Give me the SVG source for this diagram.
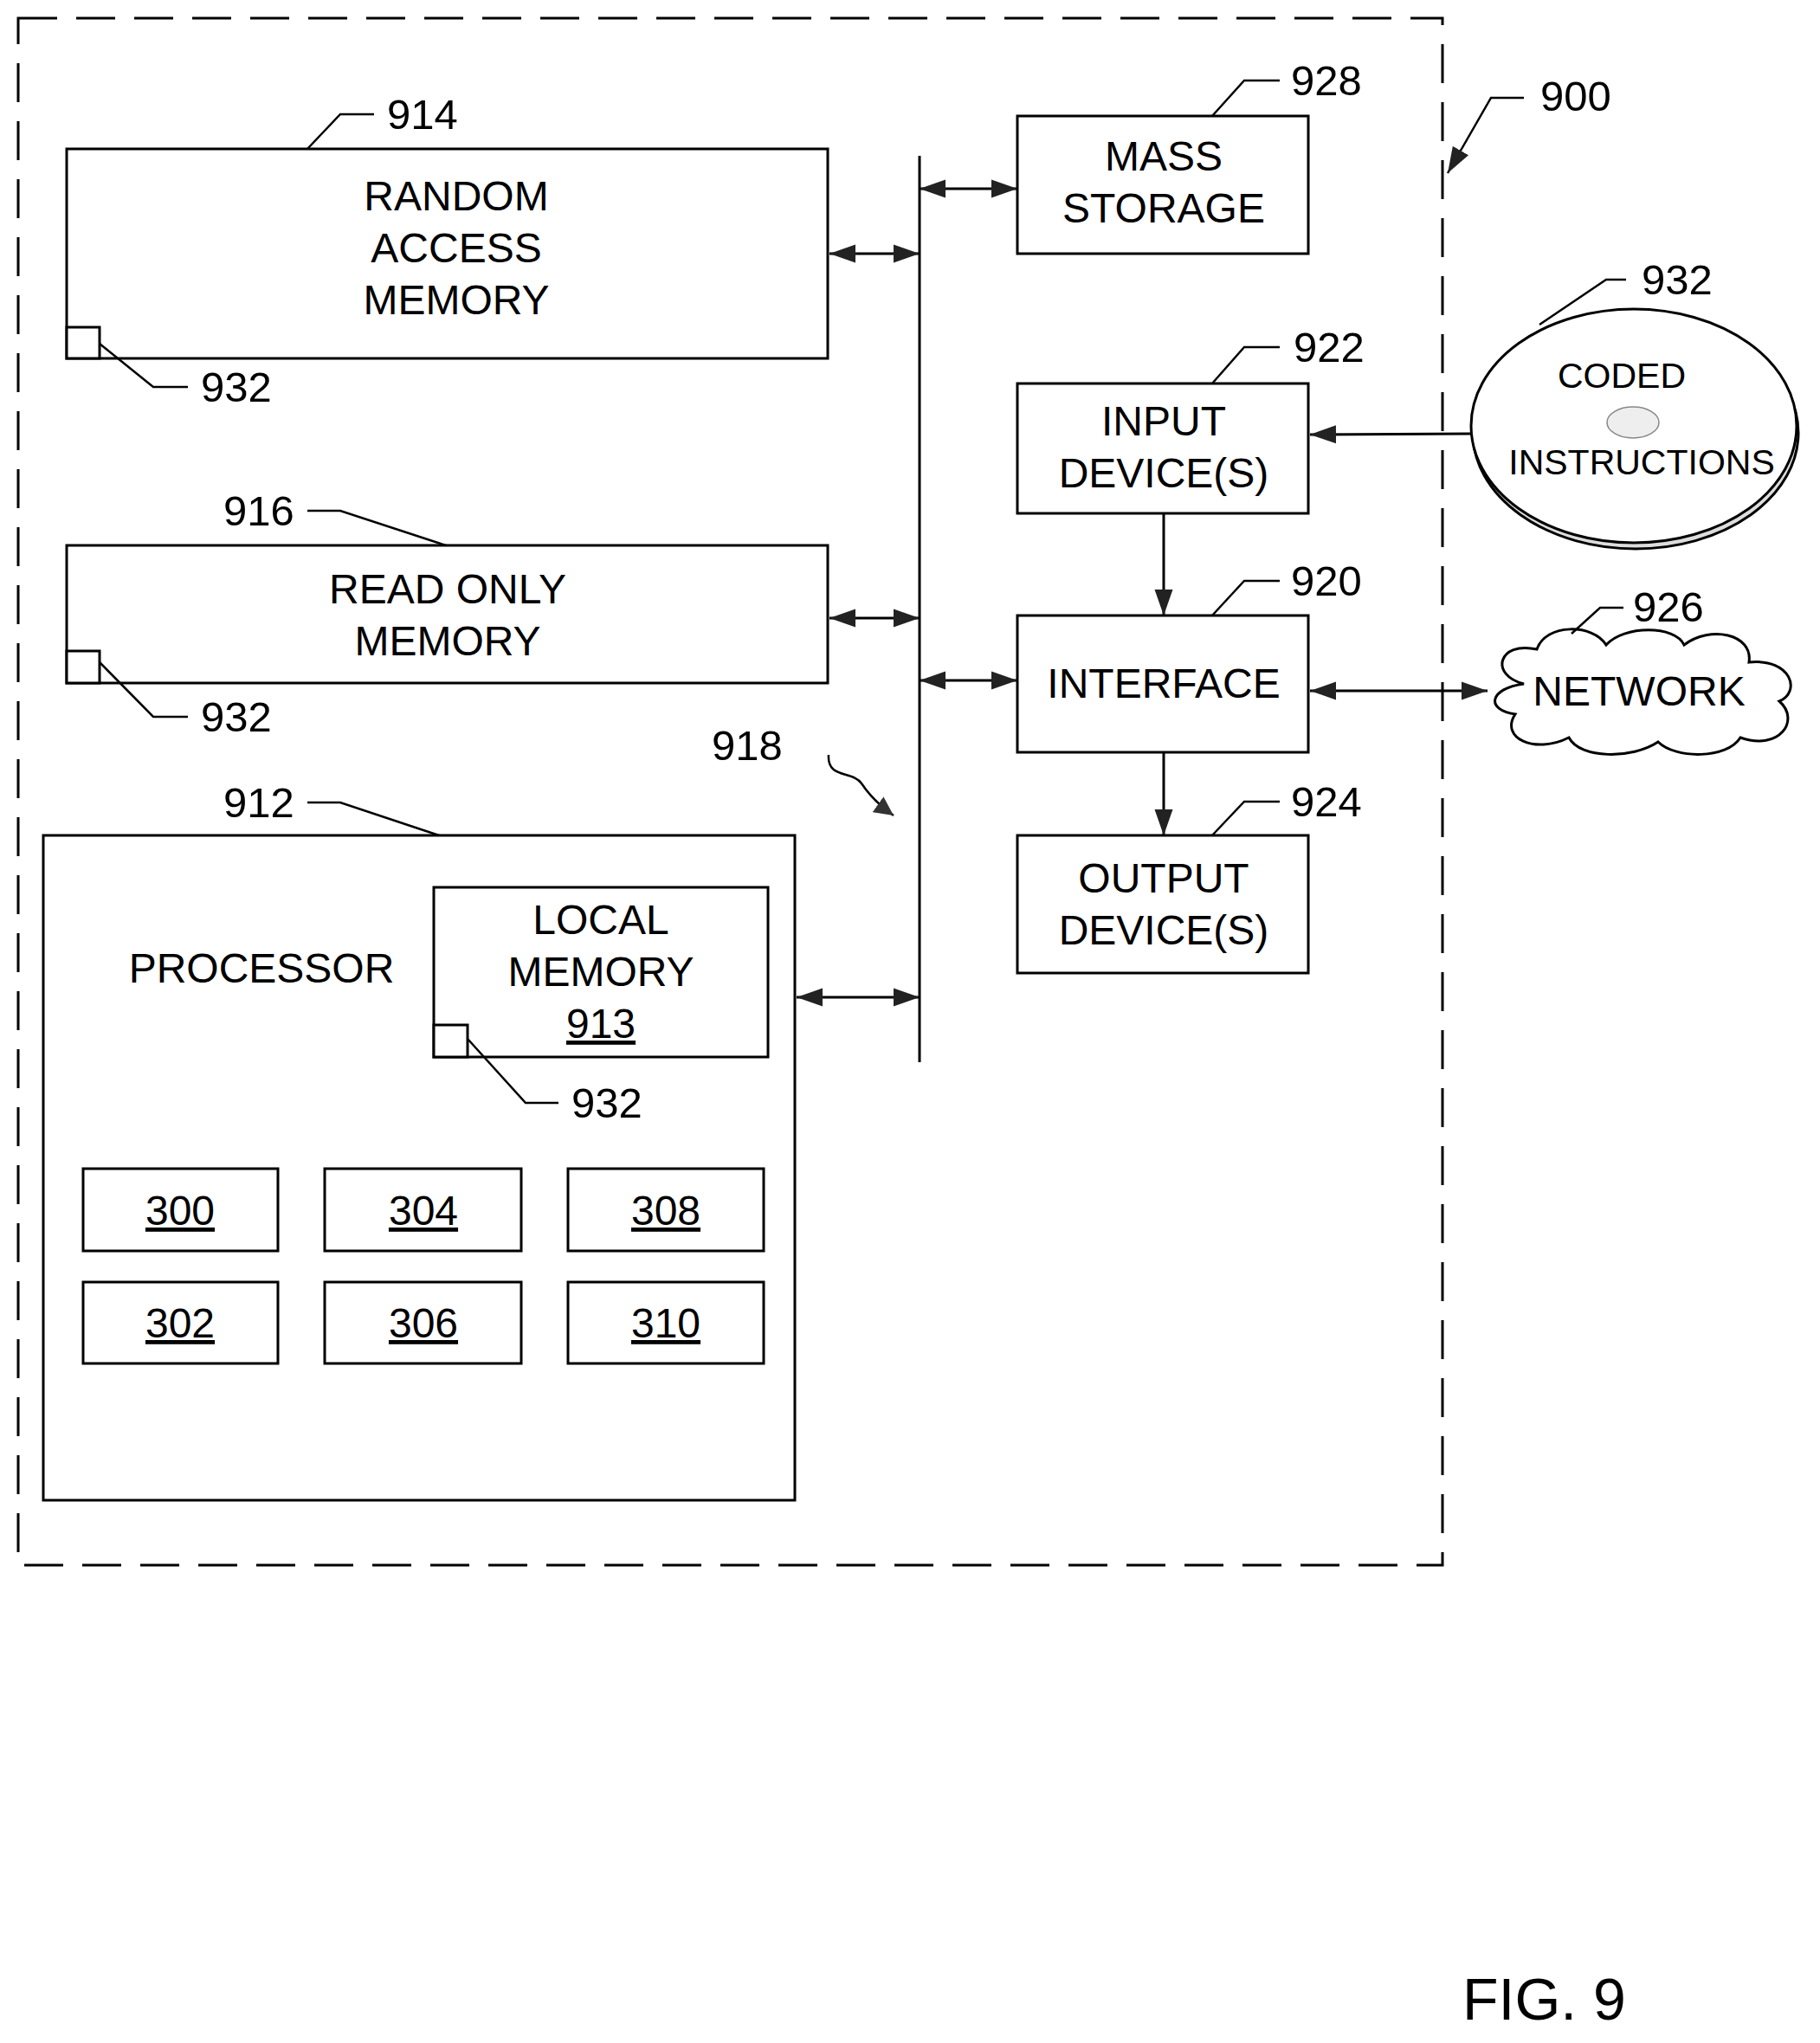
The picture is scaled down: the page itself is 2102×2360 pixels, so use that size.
<svg xmlns="http://www.w3.org/2000/svg" width="2102" height="2360" viewBox="0 0 2102 2360">
<style>
.b{fill:#fff;stroke:#000;stroke-width:3}
.l{fill:none;stroke:#000;stroke-width:2.5}
.c{fill:none;stroke:#000;stroke-width:3}
text{font-family:"Liberation Sans",Arial,sans-serif;fill:#000}
.t{font-size:48px;text-anchor:middle}
.n{font-size:49px}
.u{text-decoration:underline}
</style>
<defs>
<marker id="a" viewBox="0 0 10 10" refX="10" refY="5" markerWidth="22" markerHeight="22" markerUnits="userSpaceOnUse" orient="auto-start-reverse"><path d="M0,0L10,5L0,10Z" fill="#333"/></marker>
<marker id="a2" viewBox="0 0 10 10" refX="10" refY="5" markerWidth="30" markerHeight="30" markerUnits="userSpaceOnUse" orient="auto-start-reverse"><path d="M0,1.5L10,5L0,8.5Z" fill="#222"/></marker>
</defs>
<rect x="21" y="21" width="1645" height="1787" fill="none" stroke="#000" stroke-width="3" stroke-dasharray="45,22"/>
<g id="ram"><rect class="b" x="77" y="172" width="879" height="242"/><rect class="b" x="77" y="378" width="38" height="36"/>
<text class="t" x="527" y="243">RANDOM</text><text class="t" x="527" y="303">ACCESS</text><text class="t" x="527" y="363">MEMORY</text>
<path class="l" d="M355,172L393,132H432M115,397L177,447H217"/><text class="n" x="447" y="149">914</text><text class="n" x="232" y="464">932</text></g>
<g id="rom"><rect class="b" x="77" y="630" width="879" height="159"/><rect class="b" x="77" y="752" width="38" height="37"/>
<text class="t" x="517" y="697">READ ONLY</text><text class="t" x="517" y="757">MEMORY</text>
<path class="l" d="M355,590H393L515,630M115,765L177,828H217"/><text class="n" x="258" y="607">916</text><text class="n" x="232" y="845">932</text></g>
<g id="processor"><rect class="b" x="50" y="965" width="868" height="768"/>
<text class="t" x="302" y="1135">PROCESSOR</text>
<path class="l" d="M355,927H393L507,965"/><text class="n" x="258" y="944">912</text>
<rect class="b" x="501" y="1025" width="386" height="196"/><rect class="b" x="501" y="1184" width="39" height="37"/>
<text class="t" x="694" y="1079">LOCAL</text><text class="t" x="694" y="1139">MEMORY</text><text class="t u" x="694" y="1199">913</text>
<path class="l" d="M540,1200L607,1274H645"/><text class="n" x="660" y="1291">932</text>
<rect class="b" x="96" y="1350" width="225" height="95"/><text class="t u" x="208" y="1415">300</text>
<rect class="b" x="375" y="1350" width="227" height="95"/><text class="t u" x="489" y="1415">304</text>
<rect class="b" x="656" y="1350" width="226" height="95"/><text class="t u" x="769" y="1415">308</text>
<rect class="b" x="96" y="1481" width="225" height="94"/><text class="t u" x="208" y="1545">302</text>
<rect class="b" x="375" y="1481" width="227" height="94"/><text class="t u" x="489" y="1545">306</text>
<rect class="b" x="656" y="1481" width="226" height="94"/><text class="t u" x="769" y="1545">310</text></g>
<g id="mass"><rect class="b" x="1175" y="134" width="336" height="159"/><text class="t" x="1344" y="197">MASS</text><text class="t" x="1344" y="257">STORAGE</text>
<path class="l" d="M1400,134L1437,93H1478"/><text class="n" x="1491" y="110">928</text></g>
<g id="input"><rect class="b" x="1175" y="443" width="336" height="150"/><text class="t" x="1344" y="503">INPUT</text><text class="t" x="1344" y="563">DEVICE(S)</text>
<path class="l" d="M1400,443L1437,401H1478"/><text class="n" x="1494" y="418">922</text></g>
<g id="interface"><rect class="b" x="1175" y="711" width="336" height="158"/><text class="t" x="1344" y="806">INTERFACE</text>
<path class="l" d="M1400,711L1437,671H1478"/><text class="n" x="1491" y="688">920</text></g>
<g id="output"><rect class="b" x="1175" y="965" width="336" height="159"/><text class="t" x="1344" y="1031">OUTPUT</text><text class="t" x="1344" y="1091">DEVICE(S)</text>
<path class="l" d="M1400,965L1437,926H1478"/><text class="n" x="1491" y="943">924</text></g>
<g id="disc"><ellipse cx="1889" cy="500" rx="188" ry="134" fill="#ddd" stroke="#000" stroke-width="3"/><ellipse cx="1887" cy="492" rx="188" ry="135" fill="#fff" stroke="#000" stroke-width="3"/>
<ellipse cx="1886" cy="488" rx="30" ry="18" fill="#eee" stroke="#888" stroke-width="1.5"/>
<text x="1873" y="448" font-size="41" text-anchor="middle">CODED</text><text x="1896" y="548" font-size="41" text-anchor="middle">INSTRUCTIONS</text>
<path class="l" d="M1778,375L1855,323H1878"/><text class="n" x="1896" y="340">932</text></g>
<g id="network"><path class="c" fill="#fff" d="M1760,790C1720,780 1730,740 1775,750C1785,720 1840,720 1855,745C1875,722 1935,722 1945,745C1975,722 2025,732 2020,765C2070,760 2080,800 2055,810C2080,832 2055,868 2010,852C1995,877 1935,877 1915,857C1885,877 1825,877 1812,852C1772,872 1732,852 1750,825C1715,820 1720,795 1760,790Z"/>
<text class="t" x="1893" y="815">NETWORK</text>
<path class="l" d="M1815,732L1848,702H1875"/><text class="n" x="1886" y="718">926</text></g>
<g id="labels"><text class="n" x="1779" y="128">900</text><path class="l" d="M1760,113H1722L1672,200" marker-end="url(#a2)"/>
<text class="n" x="822" y="878">918</text><path class="l" d="M957,872C955,900 985,890 995,905C1005,920 1015,930 1032,942" marker-end="url(#a)"/>
<text x="1689" y="2333" font-size="68">FIG. 9</text></g>
<g id="connectors" stroke="#000" stroke-width="3" fill="none">
<path d="M1062,180V1227"/>
<path d="M958,293H1062" marker-start="url(#a2)" marker-end="url(#a2)"/>
<path d="M958,714H1062" marker-start="url(#a2)" marker-end="url(#a2)"/>
<path d="M920,1152H1062" marker-start="url(#a2)" marker-end="url(#a2)"/>
<path d="M1062,218H1175" marker-start="url(#a2)" marker-end="url(#a2)"/>
<path d="M1062,786H1175" marker-start="url(#a2)" marker-end="url(#a2)"/>
<path d="M1344,593V711" marker-end="url(#a2)"/>
<path d="M1344,869V965" marker-end="url(#a2)"/>
<path d="M1513,798H1718" marker-start="url(#a2)" marker-end="url(#a2)"/>
<path d="M1699,501L1513,502" marker-end="url(#a2)"/>
</g>
</svg>
